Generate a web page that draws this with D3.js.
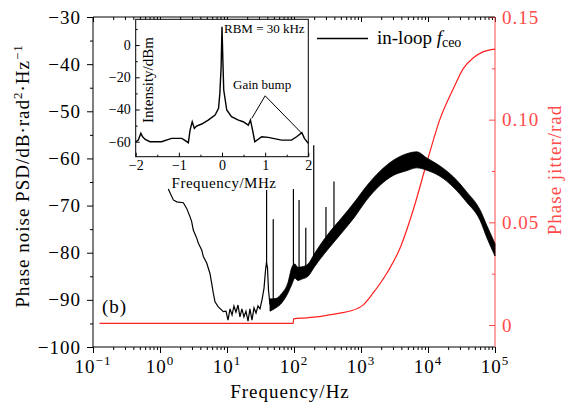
<!DOCTYPE html>
<html>
<head>
<meta charset="utf-8">
<script src="https://cdn.jsdelivr.net/npm/d3@7"></script>
<style>
  body { margin: 0; background: #fff; }
  svg text { font-family: "Liberation Serif", "Times New Roman", serif; }
</style>
</head>
<body>
<div id="chart"></div>
<script>
// low-frequency part of the in-loop fceo PSD (Hz, dB)
var lowFreq = [1.33, 1.58, 1.78, 2.23, 2.50, 2.81, 2.97, 3.14, 3.53, 3.74, 4.19, 4.43, 4.98, 5.57, 5.91, 6.25, 6.62, 7.41, 8.81,
  9.66, 10.35, 11.1, 11.9, 12.7, 13.6, 14.6, 15.6, 16.7, 17.9, 19.2, 20.6, 22.0, 23.6, 25.3, 27.1, 29.0, 31.1, 33.3, 35.7,
  37.6, 38.9, 40.2, 41.6, 43.8];
var lowPsd = [-66.5, -68.8, -69.2, -69.4, -70.6, -72.4, -73.4, -75.2, -76.9, -78.0, -79.4, -80.8, -82.2, -84.4, -86.5, -88.6, -90.4, -91.5, -92.5,
  -92.4, -94.3, -91.9, -93.2, -91.3, -92.6, -91.1, -93.6, -91.9, -93.6, -92.4, -94.5, -91.9, -94.3, -91.7, -92.8, -91.3, -91.9, -90.0, -87.5,
  -83.7, -82.0, -83.2, -87.9, -91.0];

// noisy part: upper / lower edge of the trace
var bandFreq = [43.8, 53.8, 66, 81, 93, 103, 114, 131, 162, 204, 320, 522, 815, 1188, 1923, 3034, 4810, 6780, 9570, 15100, 23900, 37800, 59700, 76000, 100000];
var bandHi = [-89.8, -89.7, -88.6, -86.4, -83.1, -82.4, -83.1, -83.0, -82.4, -80.1, -76.1, -72.5, -69.1, -66.0, -62.7, -60.4, -59.0, -58.6, -59.9, -61.6, -63.9, -67.1, -70.9, -74.3, -78.1];
var bandLo = [-92.4, -91.7, -90.6, -88.6, -86.7, -85.4, -85.9, -85.6, -85.0, -82.9, -79.3, -75.7, -72.3, -69.0, -65.7, -63.6, -62.6, -62.0, -62.5, -63.8, -66.1, -69.3, -73.1, -76.9, -80.7];

// narrow spurs
var spikeFreq = [39, 49, 98, 119, 150, 197, 300, 395];
var spikeTop = [-66.7, -72.9, -66.5, -68.8, -74.7, -57.2, -70.3, -64.9];
var spikeBase = [-82, -91, -85, -85, -84.5, -82, -78.5, -76];

// integrated phase jitter (rad)
var jitterFreq = [0.125, 97.5, 98.5, 150, 218, 320, 484, 690, 1070, 1520, 2440, 3890, 6010, 9580, 15000, 23800, 33800, 47000, 66000, 100000];
var jitterVal = [0.0008, 0.0008, 0.003, 0.0035, 0.004, 0.0048, 0.0058, 0.0068, 0.0097, 0.0156, 0.0253, 0.038, 0.056, 0.079, 0.1000, 0.1150, 0.1250, 0.1300, 0.1330, 0.1344];

// inset RF spectrum (MHz, dBm)
var insetMHz = [-2.0, -1.94, -1.88, -1.84, -1.78, -1.67, -1.40, -1.17, -0.93, -0.78, -0.74, -0.69, -0.64, -0.59, -0.47, -0.32, -0.16, -0.08, -0.05, -0.02, 0.0,
  0.02, 0.04, 0.11, 0.22, 0.38, 0.49, 0.61, 0.66, 0.70, 0.76, 0.92, 1.07, 1.38, 1.61, 1.73, 1.85, 1.91, 2.0];
var insetDbm = [-60.0, -59, -54.8, -56.9, -58.6, -60, -60, -57.9, -57.9, -60.6, -52.8, -47.6, -51.7, -50.3, -49.0, -46.6, -43.4, -39.3, -30, -13.4, 11.4,
  -9.3, -27.9, -40.3, -44.5, -46.6, -47.6, -49.7, -46.6, -51.7, -60, -56.9, -57.3, -59, -59, -56.9, -54.4, -57.9, -61];
var bumpApex = [1.0, -31.5];
var bumpEnds = [[0.69, -45.5], [1.85, -54.8]];

// ticks
var xExps = [-1, 0, 1, 2, 3, 4, 5];
var yTicks = [-100, -90, -80, -70, -60, -50, -40, -30];
var y2Ticks = [0, 0.05, 0.10, 0.15];
var insetXTicks = [-2, -1, 0, 1, 2];
var insetYTicks = [0, -20, -40, -60];

var RED = "#ff2020", RED_T = "#ff4a4a";
var fmt = function(d) { return d < 0 ? "\u2212" + Math.abs(d) : String(d); };

var svg = d3.select("#chart").append("svg").attr("width", 566).attr("height", 403);

var x = d3.scaleLog().domain([0.1, 1e5]).range([93, 495]);
var y = d3.scaleLinear().domain([-100, -30]).range([347, 17]);
var y2 = d3.scaleLinear().domain([0, 0.15]).range([325, 17]);

var xMinor = [];
xExps.slice(0, -1).forEach(function(e) {
  for (var k = 2; k < 10; k++) xMinor.push(k * Math.pow(10, e));
});
var xMajor = xExps.map(function(e) { return Math.pow(10, e); });

function styleAxis(g, col) {
  g.select(".domain").remove();
  g.selectAll("line").attr("stroke", col).attr("stroke-width", 1);
  g.selectAll("text").attr("fill", col);
}

// bottom axis
svg.append("g").attr("transform", "translate(0,347)")
  .call(d3.axisBottom(x).tickValues(xMajor).tickSize(6).tickFormat(""))
  .call(styleAxis, "#000");
svg.append("g").attr("transform", "translate(0,347)")
  .call(d3.axisBottom(x).tickValues(xMinor).tickSize(3).tickFormat(""))
  .call(styleAxis, "#000");
// top axis (ticks inward)
svg.append("g").attr("transform", "translate(0,17)")
  .call(d3.axisTop(x).tickValues(xMajor).tickSize(-5).tickFormat(""))
  .call(styleAxis, "#000");
svg.append("g").attr("transform", "translate(0,17)")
  .call(d3.axisTop(x).tickValues(xMinor).tickSize(-3).tickFormat(""))
  .call(styleAxis, "#000");

var xl = svg.append("g").selectAll("text").data(xExps).join("text")
  .attr("x", function(d) { return x(Math.pow(10, d)); })
  .attr("y", 373)
  .attr("text-anchor", "middle")
  .style("font-size", "19px")
  .style("letter-spacing", "1px")
  .text("10");
xl.append("tspan").attr("dy", -8).style("font-size", "13px")
  .text(function(d) { return fmt(d); });

// left axis
var yMinor = yTicks.slice(0, -1).map(function(d) { return d + 5; });
svg.append("g").attr("transform", "translate(93,0)")
  .call(d3.axisLeft(y).tickValues(yTicks).tickSize(6).tickPadding(6).tickFormat(fmt))
  .call(styleAxis, "#000")
  .selectAll("text").style("font-size", "19px").style("letter-spacing", "1px");
svg.append("g").attr("transform", "translate(93,0)")
  .call(d3.axisLeft(y).tickValues(yMinor).tickSize(3).tickFormat(""))
  .call(styleAxis, "#000");

// right axis (red)
var y2Minor = [0.025, 0.075, 0.125];
svg.append("g").attr("transform", "translate(495,0)")
  .call(d3.axisRight(y2).tickValues(y2Ticks).tickSize(-6).tickPadding(7)
    .tickFormat(function(d) { return d === 0 ? "0" : d.toFixed(2); }))
  .call(styleAxis, RED_T)
  .selectAll("text").style("font-size", "19px").style("letter-spacing", "1px");
svg.append("g").attr("transform", "translate(495,0)")
  .call(d3.axisRight(y2).tickValues(y2Minor).tickSize(-3).tickFormat(""))
  .call(styleAxis, RED_T);

// frame lines
svg.append("line").attr("x1", 93).attr("x2", 495).attr("y1", 17).attr("y2", 17).attr("stroke", "#000");
svg.append("line").attr("x1", 93).attr("x2", 495).attr("y1", 347).attr("y2", 347).attr("stroke", "#000");
svg.append("line").attr("x1", 93).attr("x2", 93).attr("y1", 17).attr("y2", 347).attr("stroke", "#000");
svg.append("line").attr("x1", 495).attr("x2", 495).attr("y1", 17).attr("y2", 347).attr("stroke", RED_T);

// red jitter curve
var jData = jitterFreq.map(function(f, i) { return [f, jitterVal[i]]; });
svg.append("path")
  .attr("d", d3.line().curve(d3.curveMonotoneX)
    .x(function(d) { return x(d[0]); })
    .y(function(d) { return y2(d[1]); })(jData))
  .attr("fill", "none").attr("stroke", RED).attr("stroke-width", 1.2);

// black PSD: low-frequency line
var lowData = lowFreq.map(function(f, i) { return [f, lowPsd[i]]; });
svg.append("path")
  .attr("d", d3.line()
    .x(function(d) { return x(d[0]); })
    .y(function(d) { return y(d[1]); })(lowData))
  .attr("fill", "none").attr("stroke", "#000").attr("stroke-width", 1.2);

// noisy band
var bandData = bandFreq.map(function(f, i) { return { f: f, hi: bandHi[i], lo: bandLo[i] }; });
svg.append("path")
  .attr("d", d3.area().curve(d3.curveMonotoneX)
    .x(function(d) { return x(d.f); })
    .y0(function(d) { return y(d.lo); })
    .y1(function(d) { return y(d.hi); })(bandData))
  .attr("fill", "#000").attr("stroke", "#000").attr("stroke-width", 0.8);

// spurs
svg.append("g").selectAll("line").data(spikeFreq).join("line")
  .attr("x1", function(d) { return x(d); })
  .attr("x2", function(d) { return x(d); })
  .attr("y1", function(d, i) { return y(spikeTop[i]); })
  .attr("y2", function(d, i) { return y(spikeBase[i]); })
  .attr("stroke", "#000").attr("stroke-width", 1.2);

// axis titles
svg.append("text")
  .attr("x", 290).attr("y", 398)
  .attr("text-anchor", "middle")
  .style("font-size", "19px").style("letter-spacing", "1px")
  .text("Frequency/Hz");

var yt = svg.append("text")
  .attr("transform", "translate(29,176) rotate(-90)")
  .attr("text-anchor", "middle")
  .style("font-size", "19px").style("letter-spacing", "1px");
yt.append("tspan").text("Phase noise PSD/dB\u00b7rad");
yt.append("tspan").attr("dy", -7).style("font-size", "13px").text("2");
yt.append("tspan").attr("dy", 7).text("\u00b7Hz");
yt.append("tspan").attr("dy", -7).style("font-size", "13px").text("\u22121");

svg.append("text")
  .attr("transform", "translate(561,170) rotate(-90)")
  .attr("text-anchor", "middle")
  .attr("fill", RED_T)
  .style("font-size", "19px").style("letter-spacing", "1px")
  .text("Phase jitter/rad");

svg.append("text").attr("x", 102).attr("y", 313)
  .style("font-size", "19px").style("letter-spacing", "1px").text("(b)");

// legend
svg.append("line").attr("x1", 317).attr("x2", 368).attr("y1", 38.5).attr("y2", 38.5)
  .attr("stroke", "#000").attr("stroke-width", 1.3);
var lg = svg.append("text").attr("x", 377).attr("y", 44).style("font-size", "19px");
lg.append("tspan").text("in-loop ");
lg.append("tspan").style("font-style", "italic").text("f");
lg.append("tspan").attr("dy", 3).style("font-size", "14px").text("ceo");

// inset
var ix = d3.scaleLinear().domain([-2, 2]).range([135.7, 308.3]);
var iy = d3.scaleLinear().domain([-69.3, 16]).range([156.7, 19.3]);
var ins = svg.append("g");
ins.append("rect").attr("x", 135.7).attr("y", 19.3).attr("width", 172.6).attr("height", 137.4)
  .attr("fill", "#fff").attr("stroke", "#000").attr("stroke-width", 1);

ins.append("g").attr("transform", "translate(0,156.7)")
  .call(d3.axisBottom(ix).tickValues(insetXTicks).tickSize(-4).tickPadding(3).tickFormat(fmt))
  .call(styleAxis, "#000")
  .selectAll("text").style("font-size", "14px");
ins.append("g").attr("transform", "translate(0,156.7)")
  .call(d3.axisBottom(ix).tickValues([-1.5, -0.5, 0.5, 1.5]).tickSize(-2).tickFormat(""))
  .call(styleAxis, "#000");
ins.append("g").attr("transform", "translate(135.7,0)")
  .call(d3.axisLeft(iy).tickValues(insetYTicks).tickSize(-4).tickPadding(5).tickFormat(fmt))
  .call(styleAxis, "#000")
  .selectAll("text").style("font-size", "14px");
ins.append("g").attr("transform", "translate(135.7,0)")
  .call(d3.axisLeft(iy).tickValues([10, -10, -30, -50]).tickSize(-2).tickFormat(""))
  .call(styleAxis, "#000");

var insData = insetMHz.map(function(m, i) { return [m, insetDbm[i]]; });
ins.append("path")
  .attr("d", d3.line()
    .x(function(d) { return ix(d[0]); })
    .y(function(d) { return iy(d[1]); })(insData))
  .attr("fill", "none").attr("stroke", "#000").attr("stroke-width", 1.4);

bumpEnds.forEach(function(e) {
  ins.append("line")
    .attr("x1", ix(bumpApex[0])).attr("y1", iy(bumpApex[1]))
    .attr("x2", ix(e[0])).attr("y2", iy(e[1]))
    .attr("stroke", "#000").attr("stroke-width", 1);
});

ins.append("text").attr("x", 224).attr("y", 33).style("font-size", "13px").text("RBM = 30 kHz");
ins.append("text").attr("x", 233).attr("y", 89).style("font-size", "13px").text("Gain bump");
ins.append("text")
  .attr("transform", "translate(153,80) rotate(-90)")
  .attr("text-anchor", "middle")
  .style("font-size", "15px")
  .text("Intensity/dBm");
ins.append("text").attr("x", 224).attr("y", 188)
  .attr("text-anchor", "middle")
  .style("font-size", "15px").style("letter-spacing", "0.5px")
  .text("Frequency/MHz");
</script>
</body>
</html>
